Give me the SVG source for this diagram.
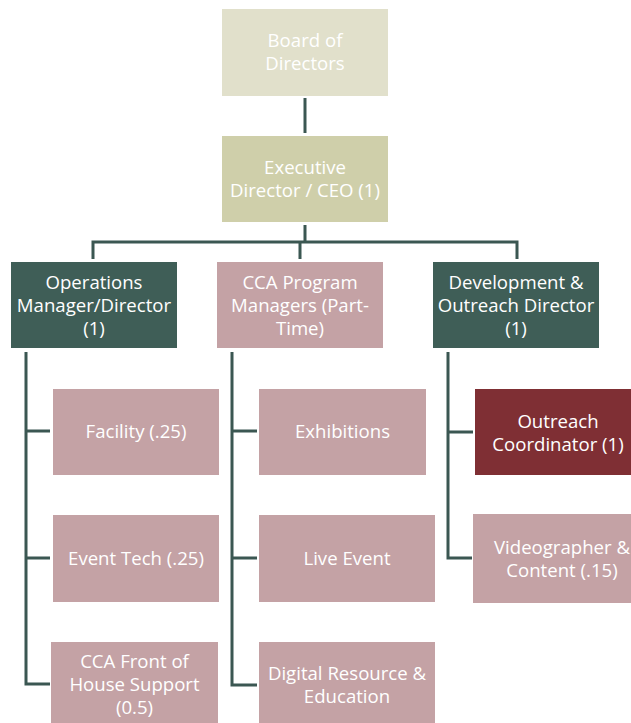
<svg xmlns="http://www.w3.org/2000/svg" width="631" height="723" viewBox="0 0 631 723">
  <style>
    .box text { font-family: "Open Sans", "Noto Sans", "Liberation Sans", sans-serif; font-size: 18.6px; fill: #ffffff; text-anchor: middle; }
    .board { fill: #e1e0cb; }
    .exec { fill: #cfcfaa; }
    .lead { fill: #3f5e57; }
    .staff { fill: #c4a2a5; }
    .accent { fill: #7f2f34; }
    .link { fill: none; stroke: #3b5752; stroke-width: 3; }
  </style>

  <rect width="631" height="723" fill="#ffffff"/>

  <g id="connectors">
    <path class="link" d="M305 98 V133"/>
    <path class="link" d="M305 225 V242 M93 259 V242 H517 V259 M300 242 V259"/>
    <path class="link" d="M26 352 V684 H50 M26 431 H50 M26 558 H50"/>
    <path class="link" d="M232 352 V685 H257 M232 431 H257 M232 558 H257"/>
    <path class="link" d="M448 352 V558 H472 M448 432 H473"/>
  </g>

  <g id="board" class="box">
    <rect class="board" x="222" y="9" width="166" height="87"/>
    <text x="305" y="47">Board of</text>
    <text x="305" y="70">Directors</text>
  </g>

  <g id="ceo" class="box">
    <rect class="exec" x="222" y="136" width="166" height="86"/>
    <text x="305" y="174">Executive</text>
    <text x="305" y="197">Director / CEO (1)</text>
  </g>

  <g id="operations" class="box">
    <rect class="lead" x="11" y="262" width="166" height="86"/>
    <text x="94" y="289">Operations</text>
    <text x="94" y="312">Manager/Director</text>
    <text x="94" y="335">(1)</text>
  </g>

  <g id="program-managers" class="box">
    <rect class="staff" x="217" y="262" width="166" height="86"/>
    <text x="300" y="289">CCA Program</text>
    <text x="300" y="312">Managers (Part-</text>
    <text x="300" y="335">Time)</text>
  </g>

  <g id="development" class="box">
    <rect class="lead" x="433" y="262" width="166" height="86"/>
    <text x="516" y="289">Development &amp;</text>
    <text x="516" y="312">Outreach Director</text>
    <text x="516" y="335">(1)</text>
  </g>

  <g id="facility" class="box">
    <rect class="staff" x="53" y="389" width="166" height="86"/>
    <text x="136" y="438">Facility (.25)</text>
  </g>

  <g id="event-tech" class="box">
    <rect class="staff" x="53" y="515" width="166" height="87"/>
    <text x="136" y="565">Event Tech (.25)</text>
  </g>

  <g id="front-of-house" class="box">
    <rect class="staff" x="51" y="642" width="167" height="86"/>
    <text x="134.5" y="668">CCA Front of</text>
    <text x="134.5" y="691">House Support</text>
    <text x="134.5" y="714">(0.5)</text>
  </g>

  <g id="exhibitions" class="box">
    <rect class="staff" x="259" y="389" width="167" height="86"/>
    <text x="342.5" y="438">Exhibitions</text>
  </g>

  <g id="live-event" class="box">
    <rect class="staff" x="259" y="515" width="176" height="87"/>
    <text x="347" y="565">Live Event</text>
  </g>

  <g id="digital-resource" class="box">
    <rect class="staff" x="259" y="642" width="176" height="86"/>
    <text x="347" y="680">Digital Resource &amp;</text>
    <text x="347" y="703">Education</text>
  </g>

  <g id="outreach-coordinator" class="box">
    <rect class="accent" x="475" y="389" width="166" height="86"/>
    <text x="558" y="428">Outreach</text>
    <text x="558" y="451">Coordinator (1)</text>
  </g>

  <g id="videographer" class="box">
    <rect class="staff" x="473" y="514" width="178" height="89"/>
    <text x="562" y="554">Videographer &amp;</text>
    <text x="562" y="577">Content (.15)</text>
  </g>
</svg>
